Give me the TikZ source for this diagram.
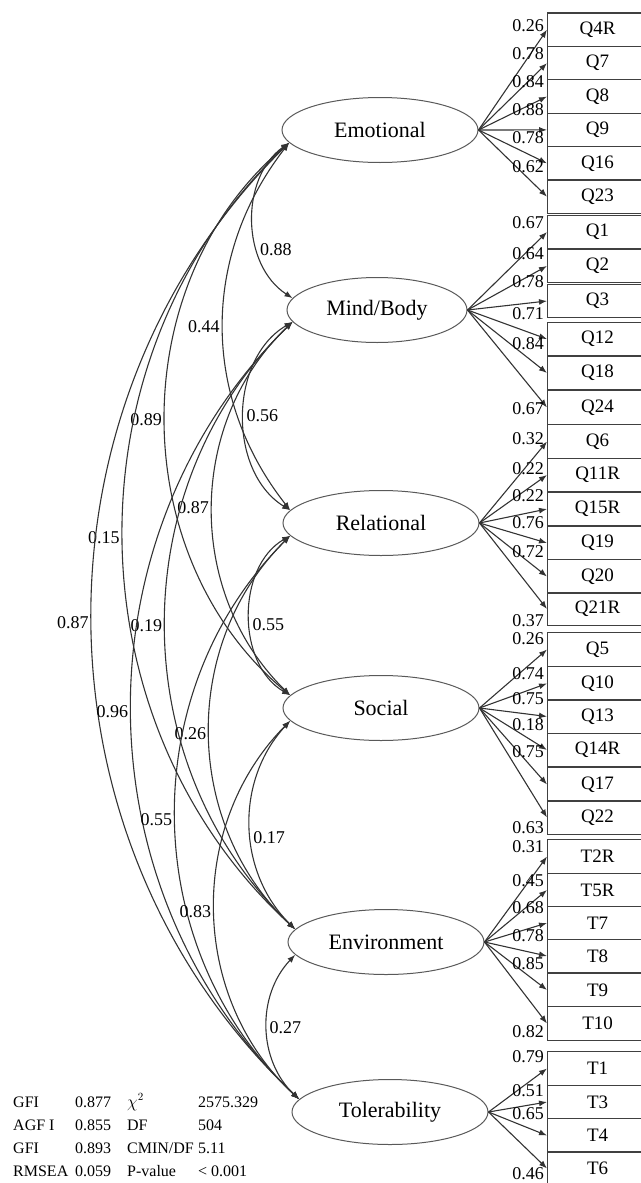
\documentclass[tikz,border=0pt]{standalone}
\usepackage{fontspec}
\setmainfont{Liberation Serif}
\usetikzlibrary{arrows.meta,shapes.geometric}

\tikzset{
  latent/.style={ellipse, draw=black!65, line width=1pt, minimum width=196pt,
    minimum height=65pt, inner sep=0pt, font=\fontsize{22}{24}\selectfont},
  indicator/.style={draw=black!75, line width=1.2pt, anchor=west, minimum width=100pt,
    minimum height=33.5pt, inner sep=0pt, font=\fontsize{19}{21}\selectfont},
  loadarrow/.style={draw=black!80, line width=1.1pt, -{Latex[length=8pt,width=6pt]}},
  covar/.style={draw=black!80, line width=1.1pt,
    {Latex[length=8pt,width=6pt]}-{Latex[length=8pt,width=6pt]}},
  loadlbl/.style={anchor=east, inner sep=0pt, font=\fontsize{18}{20}\selectfont},
  covin/.style={anchor=west, inner sep=2pt, font=\fontsize{18}{20}\selectfont},
  covout/.style={anchor=east, inner sep=0pt, xshift=-3pt, font=\fontsize{18}{20}\selectfont},
}

\begin{document}
\begin{tikzpicture}[x=1pt, y=1pt]
\useasboundingbox (0,0) rectangle (640,-1183);

% latent factors
\node[latent] (emo) at (380,-130) {Emotional};
\node[latent, minimum width=180pt] (mind) at (377,-310) {Mind/Body};
\node[latent] (rel) at (381,-523) {Relational};
\node[latent] (soc) at (381,-708) {Social};
\node[latent] (env) at (386,-942) {Environment};
\node[latent] (tol) at (390,-1112) {Tolerability};

% observed items, loadings
\foreach \f/\rows in {
  emo/{Q4R/29.7/0.26/26, Q7/63.1/0.78/54, Q8/96.5/0.84/82, Q9/129.9/0.88/110, Q16/163.3/0.78/138, Q23/196.7/0.62/167},
  mind/{Q1/232/0.67/223, Q2/266/0.64/254, Q3/301/0.78/282, Q12/339/0.71/314, Q18/373/0.84/344, Q24/407.5/0.67/409},
  rel/{Q6/441.5/0.32/439, Q11R/475/0.22/469, Q15R/509/0.22/496, Q19/543/0.76/523, Q20/576.5/0.72/552, Q21R/609/0.37/621},
  soc/{Q5/649.5/0.26/639, Q10/683.5/0.74/674, Q13/716.5/0.75/699, Q14R/750/0.18/725, Q17/784.5/0.75/752, Q22/817.5/0.63/828},
  env/{T2R/856.5/0.31/847, T5R/890/0.45/881, T7/923/0.68/908, T8/956/0.78/936, T9/990/0.85/964, T10/1023.5/0.82/1032},
  tol/{T1/1068.5/0.79/1057, T3/1102/0.51/1091, T4/1135.5/0.65/1114, T6/1168.5/0.46/1174}}{
  \foreach \q/\y/\v/\ly in \rows {
    \node[indicator] (\q) at (547,-\y) {\q};
    \draw[loadarrow] (\f.east) -- (\q.west);
    \node[loadlbl] (l\q) at (544,-\ly) {\v};
  }
}

% correlations
\draw[covar] (emo.188) to[bend right=56] node[covin, pos=.66] {0.88} (mind.172);
\draw[covar] (emo.188) to[bend right=38] node[covout] {0.44} (rel.172);
\draw[covar] (emo.188) to[bend right=50] node[covout] {0.89} (soc.172);
\draw[covar] (emo.188) to[bend right=47] node[covout] {0.15} (env.172);
\draw[covar] (emo.188) to[bend right=46] node[covout] {0.87} (tol.172);
\draw[covar] (mind.188) to[bend right=59] node[covin] {0.56} (rel.172);
\draw[covar] (mind.188) to[bend right=46] node[covout] {0.87} (soc.172);
\draw[covar] (mind.188) to[bend right=46] node[covout] {0.19} (env.172);
\draw[covar] (mind.188) to[bend right=46] node[covout] {0.96} (tol.172);
\draw[covar] (rel.188) to[bend right=60] node[covin, pos=.55] {0.55} (soc.172);
\draw[covar] (rel.188) to[bend right=46] node[covout] {0.26} (env.172);
\draw[covar] (rel.188) to[bend right=46] node[covout] {0.55} (tol.172);
\draw[covar] (soc.188) to[bend right=44] node[covin, pos=.55] {0.17} (env.172);
\draw[covar] (soc.188) to[bend right=46] node[covout] {0.83} (tol.172);
\draw[covar] (env.188) to[bend right=45] node[covin] {0.27} (tol.172);

% fit indices
\node[anchor=base west, inner sep=0pt, font=\fontsize{16}{23.3}\selectfont] (fit) at (13,-1107) {%
  \begin{tabular}[t]{@{}p{62pt}@{}p{52pt}@{}p{71pt}@{}l@{}}
  GFI & 0.877 & $\chi^2$ & 2575.329\\
  AGF I & 0.855 & DF & 504\\
  GFI & 0.893 & CMIN/DF & 5.11\\
  RMSEA & 0.059 & P-value & < 0.001
  \end{tabular}};
\end{tikzpicture}
\end{document}
